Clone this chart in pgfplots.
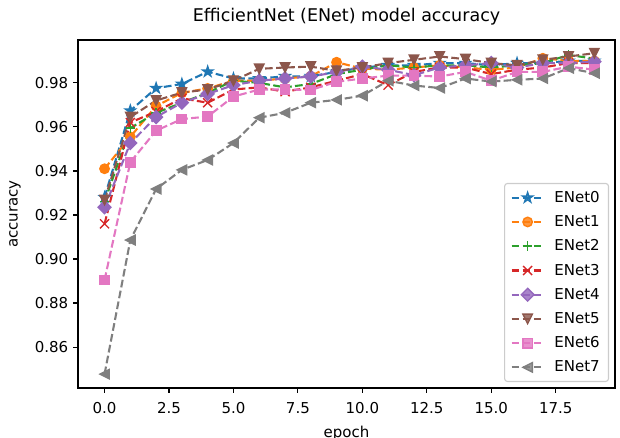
\documentclass[border=0pt]{standalone}
\usepackage{fontspec}
\setmainfont{DejaVu Sans}
\usepackage{pgfplots}
\pgfplotsset{compat=1.18}
\usetikzlibrary{plotmarks}

\definecolor{c0}{HTML}{1F77B4}
\definecolor{c1}{HTML}{FF7F0E}
\definecolor{c2}{HTML}{2CA02C}
\definecolor{c3}{HTML}{D62728}
\definecolor{c4}{HTML}{9467BD}
\definecolor{c5}{HTML}{8C564B}
\definecolor{c6}{HTML}{E377C2}
\definecolor{c7}{HTML}{7F7F7F}

% matplotlib-like filled markers
\pgfdeclareplotmark{mplstar}{%
  \pgfpathmoveto{\pgfpointpolar{90}{\pgfplotmarksize}}%
  \pgfpathlineto{\pgfpointpolar{126}{0.382*\pgfplotmarksize}}%
  \pgfpathlineto{\pgfpointpolar{162}{\pgfplotmarksize}}%
  \pgfpathlineto{\pgfpointpolar{198}{0.382*\pgfplotmarksize}}%
  \pgfpathlineto{\pgfpointpolar{234}{\pgfplotmarksize}}%
  \pgfpathlineto{\pgfpointpolar{270}{0.382*\pgfplotmarksize}}%
  \pgfpathlineto{\pgfpointpolar{306}{\pgfplotmarksize}}%
  \pgfpathlineto{\pgfpointpolar{342}{0.382*\pgfplotmarksize}}%
  \pgfpathlineto{\pgfpointpolar{18}{\pgfplotmarksize}}%
  \pgfpathlineto{\pgfpointpolar{54}{0.382*\pgfplotmarksize}}%
  \pgfpathclose\pgfusepathqfillstroke}
\pgfdeclareplotmark{mpldiamond}{%
  \pgfpathmoveto{\pgfqpoint{0pt}{\pgfplotmarksize}}%
  \pgfpathlineto{\pgfqpoint{\pgfplotmarksize}{0pt}}%
  \pgfpathlineto{\pgfqpoint{0pt}{-\pgfplotmarksize}}%
  \pgfpathlineto{\pgfqpoint{-\pgfplotmarksize}{0pt}}%
  \pgfpathclose\pgfusepathqfillstroke}
\pgfdeclareplotmark{mpltridown}{%
  \pgfpathmoveto{\pgfqpoint{0pt}{-\pgfplotmarksize}}%
  \pgfpathlineto{\pgfqpoint{-\pgfplotmarksize}{\pgfplotmarksize}}%
  \pgfpathlineto{\pgfqpoint{\pgfplotmarksize}{\pgfplotmarksize}}%
  \pgfpathclose\pgfusepathqfillstroke}
\pgfdeclareplotmark{mpltrileft}{%
  \pgfpathmoveto{\pgfqpoint{-\pgfplotmarksize}{0pt}}%
  \pgfpathlineto{\pgfqpoint{\pgfplotmarksize}{\pgfplotmarksize}}%
  \pgfpathlineto{\pgfqpoint{\pgfplotmarksize}{-\pgfplotmarksize}}%
  \pgfpathclose\pgfusepathqfillstroke}

\pgfplotstableread{
ep e0 e1 e2 e3 e4 e5 e6 e7
0  0.928 0.941 0.926 0.916 0.9235 0.9268 0.8905 0.8477
1  0.9674 0.9555 0.9595 0.962 0.9527 0.9645 0.944 0.9086
2  0.9776 0.9695 0.9664 0.967 0.9645 0.972 0.9583 0.9318
3  0.9795 0.9755 0.971 0.973 0.971 0.9756 0.9636 0.9405
4  0.9851 0.9775 0.9755 0.971 0.975 0.977 0.9647 0.945
5  0.982 0.981 0.981 0.977 0.979 0.981 0.9738 0.9527
6  0.982 0.981 0.980 0.978 0.981 0.9864 0.977 0.9642
7  0.983 0.982 0.978 0.976 0.982 0.987 0.977 0.9664
8  0.983 0.983 0.9795 0.978 0.9829 0.9874 0.9768 0.971
9  0.985 0.9894 0.984 0.981 0.9849 0.9855 0.9805 0.9723
10 0.987 0.9865 0.986 0.984 0.9874 0.987 0.982 0.9742
11 0.988 0.986 0.988 0.979 0.986 0.989 0.9833 0.981
12 0.988 0.987 0.987 0.985 0.9835 0.9905 0.9833 0.9788
13 0.989 0.988 0.988 0.987 0.987 0.992 0.9829 0.9777
14 0.989 0.987 0.988 0.987 0.988 0.9908 0.985 0.982
15 0.988 0.986 0.987 0.984 0.989 0.989 0.981 0.9806
16 0.989 0.987 0.988 0.986 0.987 0.988 0.985 0.9814
17 0.989 0.9912 0.989 0.987 0.989 0.9905 0.985 0.982
18 0.990 0.990 0.9927 0.989 0.989 0.992 0.9874 0.9867
19 0.990 0.990 0.991 0.989 0.9897 0.9935 0.986 0.9844
}\acc

\begin{document}
\begin{tikzpicture}
\begin{axis}[
  scale only axis, width=386.64pt, height=250.56pt,
  xmin=-1.03, xmax=19.8, ymin=0.8414, ymax=0.9995,
  xtick={0,2.5,...,17.5}, ytick={0.86,0.88,...,0.98},
  xticklabel style={/pgf/number format/.cd, fixed, fixed zerofill, precision=1, /tikz/.cd, yshift=-3.5pt},
  yticklabel style={/pgf/number format/.cd, fixed, fixed zerofill, precision=2, /tikz/.cd},
  /pgf/number format/assume math mode=true,
  tick label style={font=\fontsize{10.8}{13}\selectfont},
  tick align=outside, major tick length=3.5pt,
  tick style={black, line width=0.8pt},
  xtick pos=left, ytick pos=left,
  axis line style={line width=0.8pt},
  title={EfficientNet (ENet) model accuracy},
  title style={font=\fontsize{12.6}{15}\selectfont, at={(0.5,1)}, anchor=base, yshift=7pt},
  xlabel={epoch}, ylabel={accuracy},
  xlabel style={font=\fontsize{10.8}{13}\selectfont, at={(axis description cs:0.5,0)}, anchor=base, yshift=-35.4pt},
  ylabel style={font=\fontsize{10.8}{13}\selectfont, at={([xshift=-45.4pt]axis description cs:0,0.5)}, anchor=center},
  every axis plot/.append style={line width=1.5pt, dash pattern=on 5.55pt off 2.4pt},
  legend cell align=left,
  legend image code/.code={%
    \draw[mark repeat=2, mark phase=2] plot coordinates {(0pt,0pt) (11.5pt,0pt) (23pt,0pt)};},
  legend style={at={(1,0)}, anchor=south east, xshift=-4.3pt, yshift=4.3pt,
    draw=black!20, fill=white, fill opacity=0.8, text opacity=1,
    rounded corners=2pt, line width=0.8pt,
    font=\fontsize{10.8}{13}\selectfont,
    inner xsep=4.3pt, inner ysep=3.5pt, row sep=4pt, column sep=5pt},
]
\addplot[c0, mark=mplstar, mark size=3.8pt, mark options={solid, line width=1pt, fill=c0}] table[x=ep, y=e0] {\acc};
\addplot[c1, mark=*, mark size=3.4pt, mark options={solid, line width=1pt, fill=c1}] table[x=ep, y=e1] {\acc};
\addplot[c2, mark=+, mark size=3.4pt, mark options={solid, line width=1pt}] table[x=ep, y=e2] {\acc};
\addplot[c3, mark=x, mark size=4.6pt, mark options={solid, line width=1pt}] table[x=ep, y=e3] {\acc};
\addplot[c4, mark=mpldiamond, mark size=4.6pt, mark options={solid, line width=1pt, fill=c4}] table[x=ep, y=e4] {\acc};
\addplot[c5, mark=mpltridown, mark size=3.4pt, mark options={solid, line width=1pt, fill=c5}] table[x=ep, y=e5] {\acc};
\addplot[c6, mark=square*, mark size=3.4pt, mark options={solid, line width=1pt, fill=c6}] table[x=ep, y=e6] {\acc};
\addplot[c7, mark=mpltrileft, mark size=3.4pt, mark options={solid, line width=1pt, fill=c7}] table[x=ep, y=e7] {\acc};
\legend{ENet0,ENet1,ENet2,ENet3,ENet4,ENet5,ENet6,ENet7}
\coordinate (sw) at (rel axis cs:0,0);
\end{axis}
\pgfresetboundingbox
\path ([shift={(-56.16pt,-36pt)}]sw) rectangle ++(446.4pt,315.36pt);
\end{tikzpicture}
\end{document}
